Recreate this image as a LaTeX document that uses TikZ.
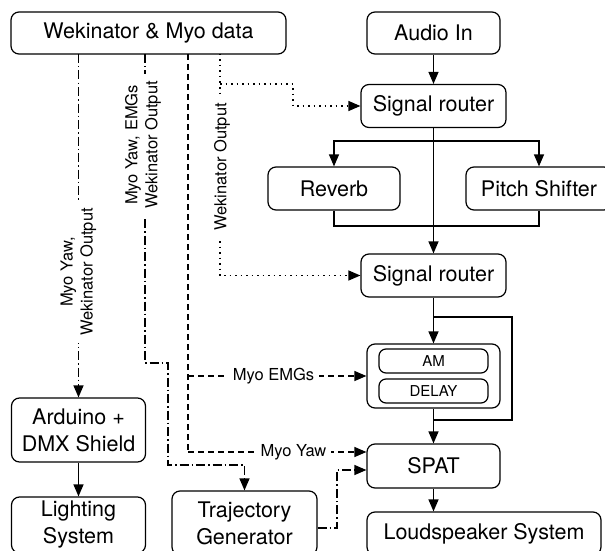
\documentclass[tikz,border=0pt]{standalone}
\usepackage{fontspec}
\setmainfont{TeX Gyre Heros}
\usetikzlibrary{arrows.meta}
\begin{document}
\begin{tikzpicture}[x=1pt,y=-1pt,
  box/.style={draw, line width=1.2pt, rounded corners=8pt, inner sep=0pt, align=center, font=\fontsize{21.5}{27}\selectfont},
  smallbox/.style={draw, line width=1.2pt, rounded corners=7pt, inner sep=0pt, font=\fontsize{15}{18}\selectfont, minimum width=109pt, minimum height=24pt},
  conn/.style={line width=1.2pt},
  arr/.style={conn, -{Triangle[length=12pt,width=10pt]}},
  dashdot/.style={dash pattern=on 9pt off 3pt on 1.5pt off 3pt},
  dsh/.style={dash pattern=on 6pt off 4pt},
  dtt/.style={dash pattern=on 1.5pt off 4pt},
  lbl/.style={fill=white, inner sep=5pt, align=center, font=\fontsize{16.5}{20}\selectfont},
]
\clip (0,0) rectangle (605,551);
\fill[white] (0,0) rectangle (605,551);
% boxes
\node[box, minimum width=275pt, minimum height=42pt] (wek) at (148.5,33) {Wekinator \& Myo data};
\node[box, minimum width=133pt, minimum height=42pt] (audio) at (433.5,33) {Audio In};
\node[box, minimum width=145pt, minimum height=43pt] (sr1) at (433.5,106) {Signal router};
\node[box, minimum width=132pt, minimum height=43pt] (reverb) at (334,188.5) {Reverb};
\node[box, minimum width=146pt, minimum height=43pt] (pitch) at (539,188.5) {Pitch Shifter};
\node[box, minimum width=145pt, minimum height=43pt] (sr2) at (433.5,275.5) {Signal router};
\node[box, minimum width=133pt, minimum height=64pt] (cont) at (433.5,376) {};
\node[smallbox] (am) at (433.5,361) {AM};
\node[smallbox] (delay) at (433.5,391) {DELAY};
\node[box, minimum width=133pt, minimum height=44pt] (spat) at (433.5,466) {SPAT};
\node[box, minimum width=234pt, minimum height=43pt] (loud) at (484,533.5) {Loudspeaker System};
\node[box, minimum width=134pt, minimum height=64pt] (arduino) at (78.5,430) {Arduino +\\DMX Shield};
\node[box, minimum width=134pt, minimum height=56pt] (lighting) at (78.5,525) {Lighting\\System};
\node[box, minimum width=145pt, minimum height=64pt] (traj) at (244.5,523) {Trajectory\\Generator};
% audio chain
\coordinate (sp1) at (433.5,141);
\coordinate (j1) at (433.5,226);
\coordinate (b1) at (512,317);
\coordinate (b2) at (512,420);
\draw[arr] (audio.south) -- (sr1.north);
\draw[arr] (sr1.south) -- (sr2.north);
\draw[arr] (sp1) -| (reverb.north);
\draw[arr] (sp1) -| (pitch.north);
\draw[conn] (reverb.south) |- (j1) -| (pitch.south);
\draw[arr] (sr2.south) -- (cont.north);
\draw[conn] (sr2.south |- b1) -- (b1) -- (b2) -- (cont.south |- b2);
\draw[arr] (cont.south) -- (spat.north);
\draw[arr] (spat.south) -- (spat.south |- loud.north);
\draw[arr] (arduino.south) -- (lighting.north);
% control lines
\coordinate (l1) at (78.5,54);
\draw[arr,dashdot] (l1) -- (arduino.north);
\coordinate (l2a) at (145,54);
\coordinate (l2b) at (145,363);
\coordinate (l2c) at (168,363);
\coordinate (l2d) at (168,465);
\coordinate (l2e) at (244.5,465);
\draw[arr,dashdot] (l2a) -- (l2b) -- (l2c) -- (l2d) -- (l2e) -- (traj.north);
\coordinate (l3a) at (188,54);
\coordinate (l3b) at (188,376);
\coordinate (l3c) at (188,452);
\draw[conn,dsh] (l3a) -- (l3c);
\draw[arr,dsh] (l3b) -- (cont.west |- l3b);
\draw[arr,dsh] (l3c) -- (spat.west |- l3c);
\coordinate (l4a) at (220,54);
\coordinate (l4b) at (220,84);
\coordinate (l4c) at (293,84);
\coordinate (l4d) at (293,106);
\coordinate (l4e) at (220,275.5);
\draw[arr,dtt] (l4a) -- (l4e) -- (sr2.west);
\draw[arr,dtt] (l4b) -- (l4c) -- (l4d) -- (sr1.west);
\coordinate (t1) at (337,528);
\coordinate (t2) at (337,470);
\draw[arr,dashdot] (traj.east |- t1) -- (t1) -- (t2) -- (spat.west |- t2);
% labels
\node[lbl, rotate=90, inner sep=7pt] (lab1) at (78.5,272) {Myo Yaw,\\Wekinator Output};
\node[lbl, rotate=90, inner sep=7pt] (lab2) at (143,145) {Myo Yaw, EMGs\\Wekinator Output};
\node[lbl, rotate=90, inner sep=7pt] (lab4) at (222,167) {Wekinator Output};
\node[lbl] (lab3) at (273.5,376) {Myo EMGs};
\node[lbl] (lab5) at (293.5,452) {Myo Yaw};
\end{tikzpicture}
\end{document}
